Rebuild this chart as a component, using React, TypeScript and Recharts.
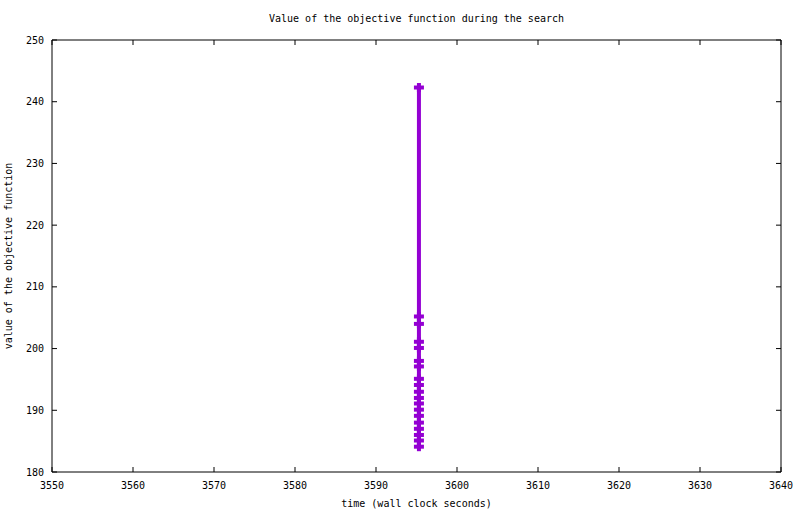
import React from 'react';
import { ScatterChart, Scatter, XAxis, YAxis } from 'recharts';

// wall clock seconds at each improvement
const times = [
  3595.3, 3595.3, 3595.3, 3595.3, 3595.3, 3595.3, 3595.3, 3595.3, 3595.3, 3595.3,
  3595.3, 3595.3, 3595.3, 3595.3, 3595.3, 3595.3, 3595.3, 3595.3, 3595.3,
];
// objective value found at that time
const objective = [
  242.3, 205.2, 204.0, 201.1, 200.1, 198.0, 197.1, 195.1, 194.1, 193.0,
  192.0, 191.1, 190.1, 189.1, 188.0, 187.0, 186.0, 185.1, 184.1,
];

const xTicks = [3550, 3560, 3570, 3580, 3590, 3600, 3610, 3620, 3630, 3640];
const yTicks = [180, 190, 200, 210, 220, 230, 240, 250];

const PURPLE = '#9400d3';
const FONT = '"DejaVu Sans Mono", monospace';
const TICK = 5; // gnuplot style inward tick length
const GAP_X = 10;
const GAP_Y = 8;

const data = times.map((t, i) => ({ t, v: objective[i] }));

const Cross = (props: any) => {
  const { cx, cy } = props;
  if (cx == null || cy == null) return null;
  return (
    <g fill={PURPLE}>
      <rect x={cx - 5} y={cy - 2} width={10} height={4} />
      <rect x={cx - 2} y={cy - 4.5} width={4} height={9} />
    </g>
  );
};

// the axis hands us the label position; tick marks point into the plot
const BottomTick = (props: any) => {
  const { x, y, payload } = props;
  const base = y - GAP_X;
  return (
    <g>
      <line x1={x} x2={x} y1={base} y2={base - TICK} stroke="#000" />
      <text x={x} y={y} dy="0.71em" textAnchor="middle" fontFamily={FONT} fontSize={10} fill="#000">
        {payload.value}
      </text>
    </g>
  );
};

const LeftTick = (props: any) => {
  const { x, y, payload } = props;
  const base = x + GAP_Y;
  return (
    <g>
      <line x1={base} x2={base + TICK} y1={y} y2={y} stroke="#000" />
      <text x={x} y={y} dy="0.355em" textAnchor="end" fontFamily={FONT} fontSize={10} fill="#000">
        {payload.value}
      </text>
    </g>
  );
};

const TopTick = (props: any) => {
  const { x, y } = props;
  return <line x1={x} x2={x} y1={y} y2={y + TICK} stroke="#000" />;
};

const RightTick = (props: any) => {
  const { x, y } = props;
  return <line x1={x} x2={x - TICK} y1={y} y2={y} stroke="#000" />;
};

export default function App() {
  return (
    <div style={{ position: 'absolute', left: 0, top: 0, width: 800, height: 514, background: '#fff' }}>
      <ScatterChart
        width={800}
        height={514}
        margin={{ top: 39, right: 18, bottom: 0, left: 0 }}
      >
        <XAxis
          xAxisId="b"
          type="number"
          dataKey="t"
          domain={[3550, 3640]}
          ticks={xTicks}
          allowDataOverflow
          height={42}
          tickSize={0}
          tickMargin={GAP_X}
          axisLine={{ stroke: '#000' }}
          tickLine={false}
          tick={BottomTick}
        />
        <XAxis
          xAxisId="top"
          orientation="top"
          type="number"
          dataKey="t"
          domain={[3550, 3640]}
          ticks={xTicks}
          allowDataOverflow
          height={1}
          tickSize={0}
          tickMargin={0}
          axisLine={{ stroke: '#000' }}
          tickLine={false}
          tick={TopTick}
        />
        <YAxis
          yAxisId="l"
          type="number"
          dataKey="v"
          domain={[180, 250]}
          ticks={yTicks}
          allowDataOverflow
          width={52}
          tickSize={0}
          tickMargin={GAP_Y}
          axisLine={{ stroke: '#000' }}
          tickLine={false}
          tick={LeftTick}
        />
        <YAxis
          yAxisId="r"
          orientation="right"
          type="number"
          dataKey="v"
          domain={[180, 250]}
          ticks={yTicks}
          allowDataOverflow
          width={1}
          tickSize={0}
          tickMargin={0}
          axisLine={{ stroke: '#000' }}
          tickLine={false}
          tick={RightTick}
        />
        <Scatter
          xAxisId="b"
          yAxisId="l"
          data={data}
          line={{ stroke: PURPLE, strokeWidth: 4 }}
          lineType="joint"
          shape={Cross}
          isAnimationActive={false}
        />
      </ScatterChart>
      <div
        style={{
          position: 'absolute', left: 52, top: 13, width: 729, textAlign: 'center',
          fontFamily: FONT, fontSize: 10, lineHeight: '12px', color: '#000',
        }}
      >
        Value of the objective function during the search
      </div>
      <div
        style={{
          position: 'absolute', left: 52, top: 498, width: 729, textAlign: 'center',
          fontFamily: FONT, fontSize: 10, lineHeight: '12px', color: '#000',
        }}
      >
        time (wall clock seconds)
      </div>
      <div
        style={{
          position: 'absolute', left: 9 - 150, top: 256 - 6, width: 300, textAlign: 'center',
          fontFamily: FONT, fontSize: 10, lineHeight: '12px', color: '#000',
          transform: 'rotate(-90deg)', transformOrigin: '150px 6px',
        }}
      >
        value of the objective function
      </div>
    </div>
  );
}
